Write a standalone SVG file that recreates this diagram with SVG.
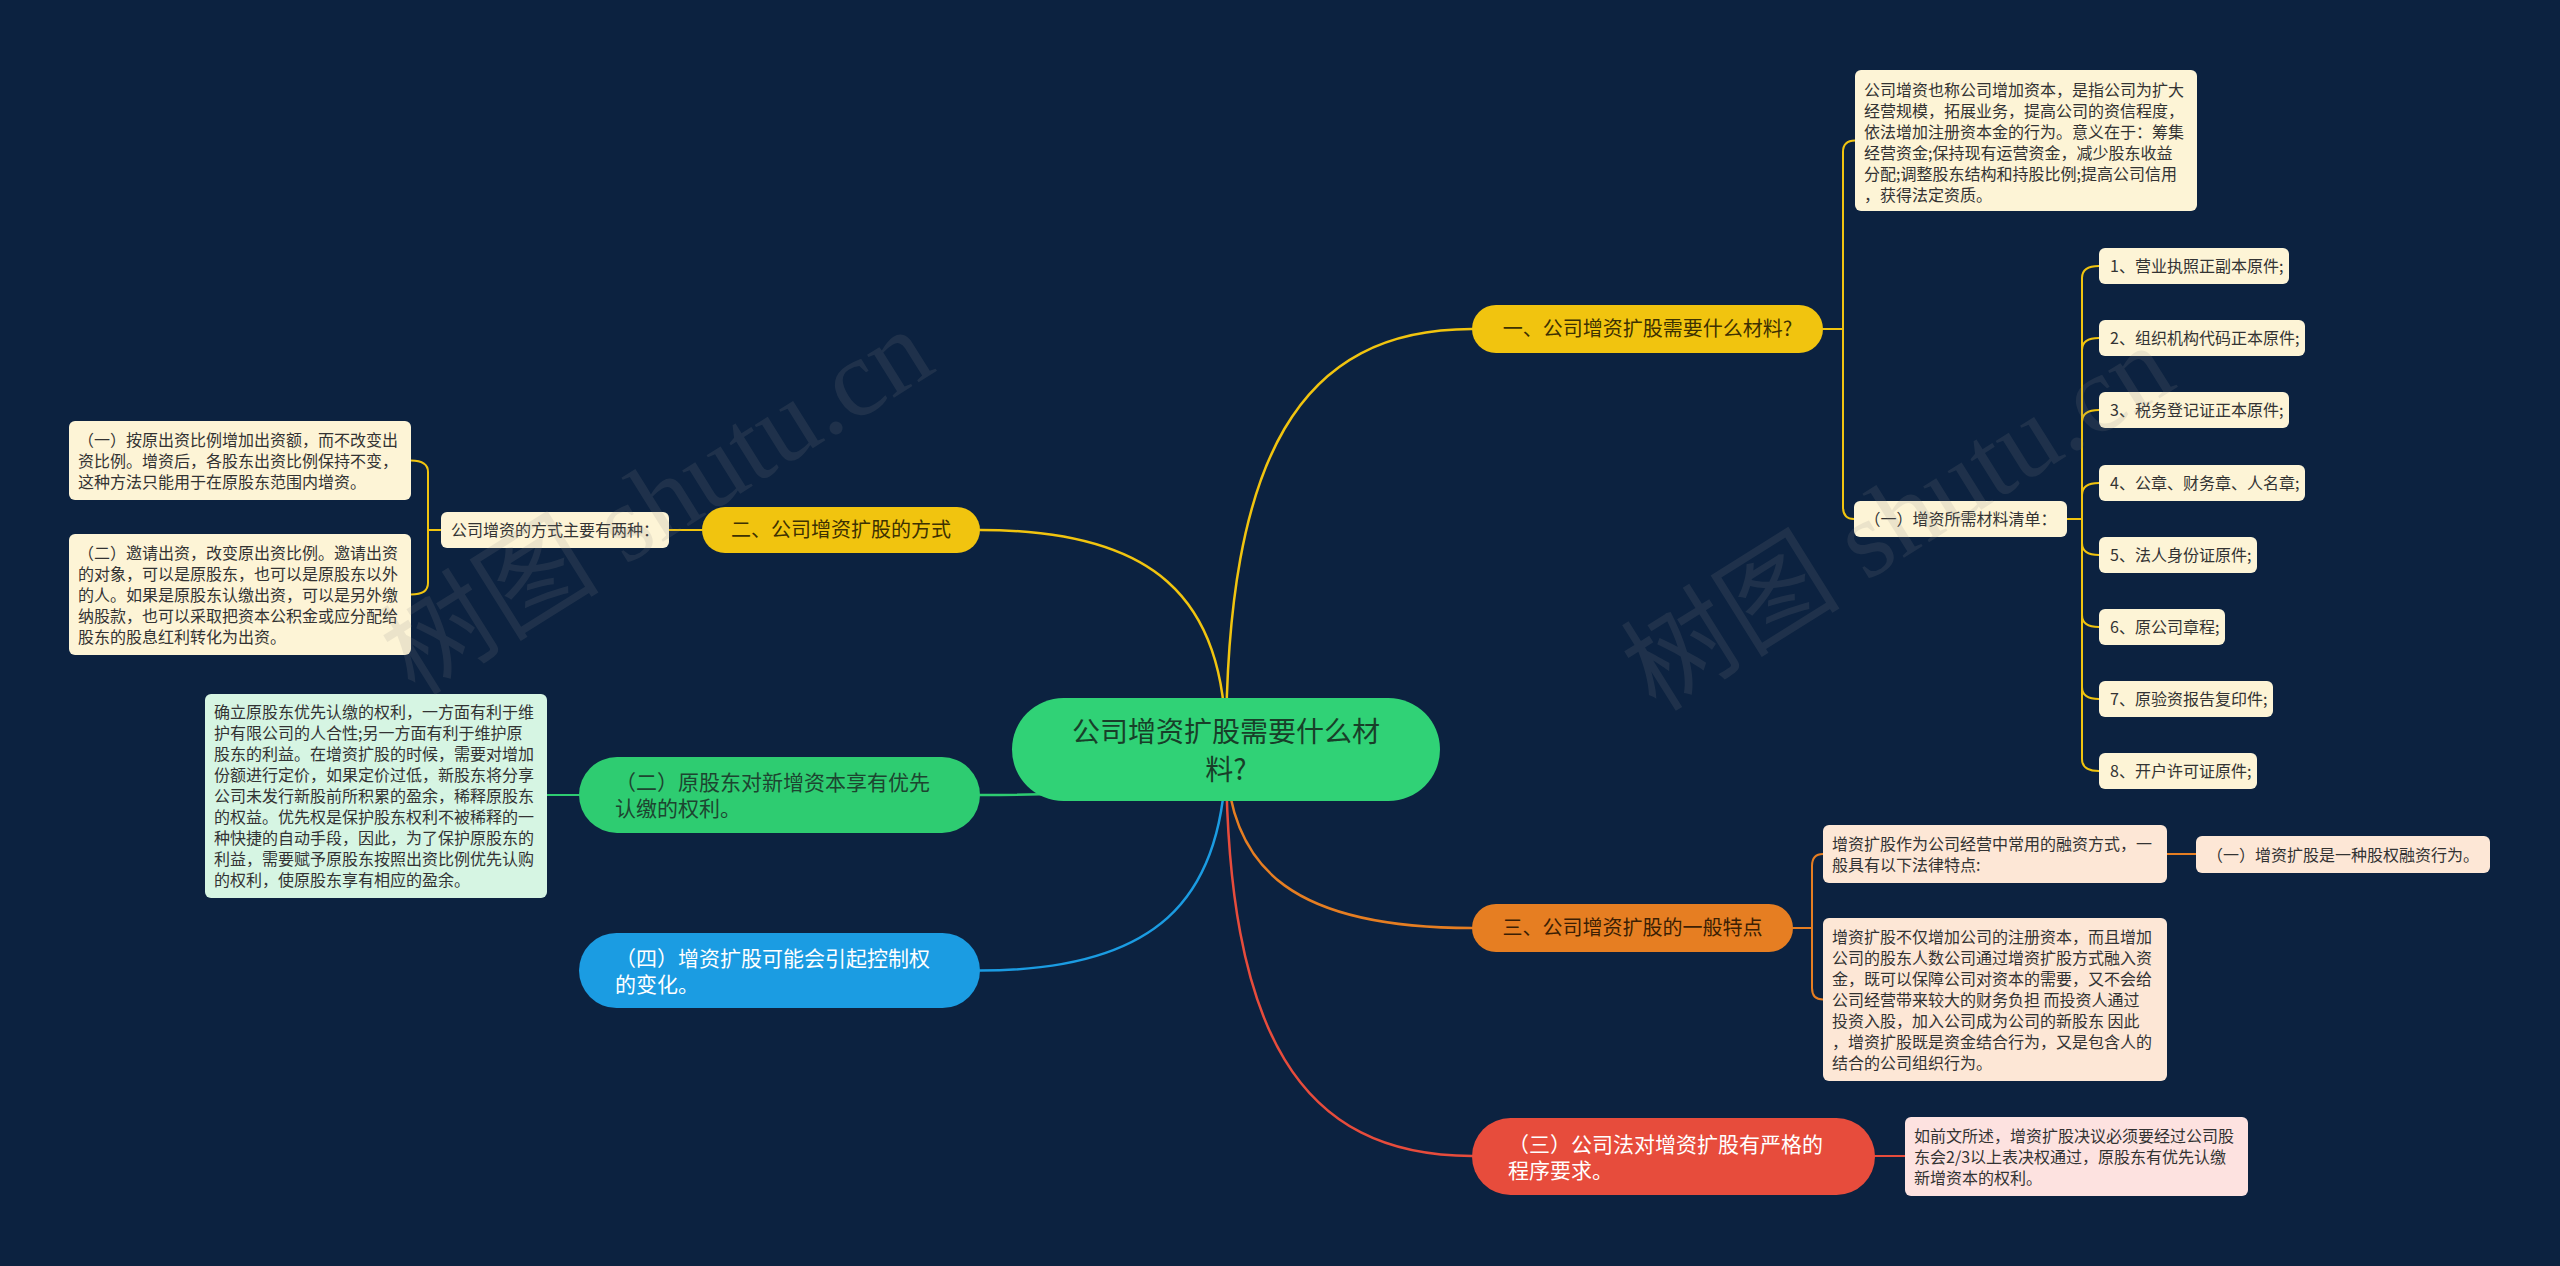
<svg xmlns="http://www.w3.org/2000/svg" width="2560" height="1266" viewBox="0 0 2560 1266">
<style>
text{font-family:"Noto Sans CJK SC","Noto Sans",sans-serif}
.t16{font-size:16px;fill:#333}
.t20{font-size:20px}
.t21{font-size:21px}
.t28{font-size:28px}
.cy{fill:#fdf4d6}
.cg{fill:#d6f5e3}
.cp{fill:#fde7d6}
.ck{fill:#fde2e0}
.lk{fill:none;stroke-width:2.5;stroke-linecap:round}
.br{fill:none;stroke-width:2;stroke-linecap:round}
.wm{font-family:"Liberation Serif","Noto Sans CJK SC",serif;font-size:110px;fill:#8a8a8a;opacity:0.15}
</style>
<rect x="0" y="0" width="2560" height="1266" fill="#0c2240"/>
<g id="connectors">
<path class="lk" stroke="#f1c40f" d="M1226,749 C1226,455 1300,329 1472,329"/>
<path class="lk" stroke="#f1c40f" d="M1226,749 C1226,595 1152,530 980,530"/>
<path class="lk" stroke="#2ecc71" d="M1226,749 C1226,781 1152,795 980,795"/>
<path class="lk" stroke="#1b9ce2" d="M1226,749 C1226,904 1152,970.5 980,970.5"/>
<path class="lk" stroke="#e67e22" d="M1226,749 C1226,874 1300,928 1472,928"/>
<path class="lk" stroke="#e74c3c" d="M1226,749 C1226,1034 1300,1156 1472,1156"/>
<g stroke="#f1c40f">
<path class="br" d="M1823,329 H1843 M1843,329 V152 Q1843,140.5 1855,140.5 M1843,329 V507 Q1843,519 1854,519"/>
<path class="br" d="M2067,519 H2082 M2082,519 V278 Q2082,266 2099,266 M2082,519 V350 Q2082,338 2099,338 M2082,519 V422 Q2082,410 2099,410 M2082,519 V495 Q2082,483 2099,483 M2082,519 V543 Q2082,555 2099,555 M2082,519 V615 Q2082,627 2099,627 M2082,519 V687 Q2082,699 2099,699 M2082,519 V759 Q2082,771 2099,771"/>
<path class="br" d="M702,530 H669 M441,530 H428 M428,530 V472 Q428,460.5 411,460.5 M428,530 V583 Q428,594.5 411,594.5"/>
</g>
<path class="br" stroke="#2ecc71" d="M579,795 H547"/>
<path class="br" stroke="#e67e22" d="M1793,928 H1812 M1812,928 V866 Q1812,854 1823,854 M1812,928 V988 Q1812,999.5 1823,999.5 M2167,854 H2196"/>
<path class="br" stroke="#e74c3c" d="M1875,1156 H1905"/>
</g>
<g id="root">
<rect x="1012" y="698" width="428" height="103" rx="51.5" fill="#30d276"/>
<text class="t28" fill="#183f29" text-anchor="middle"><tspan x="1226" y="742">公司增资扩股需要什么材</tspan><tspan x="1226" y="780">料?</tspan></text>
</g>
<g id="b1">
<rect x="1472" y="305" width="351" height="48" rx="24" fill="#f1c40f"/>
<text class="t20" fill="#3d3102" text-anchor="middle" x="1647.5" y="336">一、公司增资扩股需要什么材料?</text>
</g>
<g id="b1-desc">
<rect class="cy" x="1855" y="70" width="342" height="141" rx="6"/>
<text class="t16"><tspan x="1864" y="96">公司增资也称公司增加资本，是指公司为扩大</tspan><tspan x="1864" dy="21">经营规模，拓展业务，提高公司的资信程度，</tspan><tspan x="1864" dy="21">依法增加注册资本金的行为。意义在于：筹集</tspan><tspan x="1864" dy="21">经营资金;保持现有运营资金，减少股东收益</tspan><tspan x="1864" dy="21">分配;调整股东结构和持股比例;提高公司信用</tspan><tspan x="1864" dy="21">，获得法定资质。</tspan></text>
</g>
<g id="b1-list">
<rect class="cy" x="1854" y="501" width="213" height="36" rx="6"/>
<text class="t16" text-anchor="middle" x="1960.5" y="525">（一）增资所需材料清单：</text>
</g>
<g id="item1"><rect class="cy" x="2099" y="248" width="190" height="36" rx="6"/><text class="t16" x="2110" y="272">1、营业执照正副本原件;</text></g>
<g id="item2"><rect class="cy" x="2099" y="320" width="206" height="36" rx="6"/><text class="t16" x="2110" y="344">2、组织机构代码正本原件;</text></g>
<g id="item3"><rect class="cy" x="2099" y="392" width="190" height="36" rx="6"/><text class="t16" x="2110" y="416">3、税务登记证正本原件;</text></g>
<g id="item4"><rect class="cy" x="2099" y="465" width="206" height="36" rx="6"/><text class="t16" x="2110" y="489">4、公章、财务章、人名章;</text></g>
<g id="item5"><rect class="cy" x="2099" y="537" width="158" height="36" rx="6"/><text class="t16" x="2110" y="561">5、法人身份证原件;</text></g>
<g id="item6"><rect class="cy" x="2099" y="609" width="126" height="36" rx="6"/><text class="t16" x="2110" y="633">6、原公司章程;</text></g>
<g id="item7"><rect class="cy" x="2099" y="681" width="174" height="36" rx="6"/><text class="t16" x="2110" y="705">7、原验资报告复印件;</text></g>
<g id="item8"><rect class="cy" x="2099" y="753" width="158" height="36" rx="6"/><text class="t16" x="2110" y="777">8、开户许可证原件;</text></g>
<g id="b2">
<rect x="702" y="507" width="278" height="46" rx="23" fill="#f1c40f"/>
<text class="t20" fill="#3d3102" text-anchor="middle" x="841" y="537">二、公司增资扩股的方式</text>
</g>
<g id="b2-sub">
<rect class="cy" x="441" y="512" width="228" height="36" rx="6"/>
<text class="t16" text-anchor="middle" x="555" y="536">公司增资的方式主要有两种：</text>
</g>
<g id="b2-a">
<rect class="cy" x="69" y="421" width="342" height="79" rx="6"/>
<text class="t16"><tspan x="78" y="446">（一）按原出资比例增加出资额，而不改变出</tspan><tspan x="78" dy="21">资比例。增资后，各股东出资比例保持不变，</tspan><tspan x="78" dy="21">这种方法只能用于在原股东范围内增资。</tspan></text>
</g>
<g id="b2-b">
<rect class="cy" x="69" y="534" width="342" height="121" rx="6"/>
<text class="t16"><tspan x="78" y="559">（二）邀请出资，改变原出资比例。邀请出资</tspan><tspan x="78" dy="21">的对象，可以是原股东，也可以是原股东以外</tspan><tspan x="78" dy="21">的人。如果是原股东认缴出资，可以是另外缴</tspan><tspan x="78" dy="21">纳股款，也可以采取把资本公积金或应分配给</tspan><tspan x="78" dy="21">股东的股息红利转化为出资。</tspan></text>
</g>
<g id="g1">
<rect x="579" y="757" width="401" height="76" rx="38" fill="#2ecc71"/>
<text class="t21" fill="#1d4530"><tspan x="615" y="790">（二）原股东对新增资本享有优先</tspan><tspan x="615" y="816">认缴的权利。</tspan></text>
</g>
<g id="g1-desc">
<rect class="cg" x="205" y="694" width="342" height="204" rx="6"/>
<text class="t16"><tspan x="214" y="718">确立原股东优先认缴的权利，一方面有利于维</tspan><tspan x="214" dy="21">护有限公司的人合性;另一方面有利于维护原</tspan><tspan x="214" dy="21">股东的利益。在增资扩股的时候，需要对增加</tspan><tspan x="214" dy="21">份额进行定价，如果定价过低，新股东将分享</tspan><tspan x="214" dy="21">公司未发行新股前所积累的盈余，稀释原股东</tspan><tspan x="214" dy="21">的权益。优先权是保护股东权利不被稀释的一</tspan><tspan x="214" dy="21">种快捷的自动手段，因此，为了保护原股东的</tspan><tspan x="214" dy="21">利益，需要赋予原股东按照出资比例优先认购</tspan><tspan x="214" dy="21">的权利，使原股东享有相应的盈余。</tspan></text>
</g>
<g id="blue">
<rect x="579" y="933" width="401" height="75" rx="37.5" fill="#1b9ce2"/>
<text class="t21" fill="#ffffff"><tspan x="615" y="965.5">（四）增资扩股可能会引起控制权</tspan><tspan x="615" y="991.5">的变化。</tspan></text>
</g>
<g id="b3">
<rect x="1472" y="904" width="321" height="48" rx="24" fill="#e67e22"/>
<text class="t20" fill="#3b1e04" text-anchor="middle" x="1632.5" y="935">三、公司增资扩股的一般特点</text>
</g>
<g id="b3-c">
<rect class="cp" x="1823" y="825" width="344" height="58" rx="6"/>
<text class="t16"><tspan x="1832" y="849.5">增资扩股作为公司经营中常用的融资方式，一</tspan><tspan x="1832" dy="21">般具有以下法律特点:</tspan></text>
</g>
<g id="b3-e">
<rect class="cp" x="2196" y="836" width="294" height="37" rx="6"/>
<text class="t16" text-anchor="middle" x="2343" y="861">（一）增资扩股是一种股权融资行为。</text>
</g>
<g id="b3-d">
<rect class="cp" x="1823" y="918" width="344" height="163" rx="6"/>
<text class="t16"><tspan x="1832" y="942.5">增资扩股不仅增加公司的注册资本，而且增加</tspan><tspan x="1832" dy="21">公司的股东人数公司通过增资扩股方式融入资</tspan><tspan x="1832" dy="21">金，既可以保障公司对资本的需要，又不会给</tspan><tspan x="1832" dy="21">公司经营带来较大的财务负担 而投资人通过</tspan><tspan x="1832" dy="21">投资入股，加入公司成为公司的新股东 因此</tspan><tspan x="1832" dy="21">，增资扩股既是资金结合行为，又是包含人的</tspan><tspan x="1832" dy="21">结合的公司组织行为。</tspan></text>
</g>
<g id="red">
<rect x="1472" y="1118" width="403" height="77" rx="38.5" fill="#e74c3c"/>
<text class="t21" fill="#ffffff"><tspan x="1508" y="1152">（三）公司法对增资扩股有严格的</tspan><tspan x="1508" y="1178">程序要求。</tspan></text>
</g>
<g id="red-desc">
<rect class="ck" x="1905" y="1117" width="343" height="79" rx="6"/>
<text class="t16"><tspan x="1914" y="1142">如前文所述，增资扩股决议必须要经过公司股</tspan><tspan x="1914" dy="21">东会2/3以上表决权通过，原股东有优先认缴</tspan><tspan x="1914" dy="21">新增资本的权利。</tspan></text>
</g>
<g id="watermark">
<text class="wm" text-anchor="middle" dominant-baseline="central" transform="rotate(-32 657 502)" x="657" y="502">树图 shutu.cn</text>
<text class="wm" text-anchor="middle" dominant-baseline="central" transform="rotate(-32 1898 518)" x="1898" y="518">树图 shutu.cn</text>
</g>
</svg>
